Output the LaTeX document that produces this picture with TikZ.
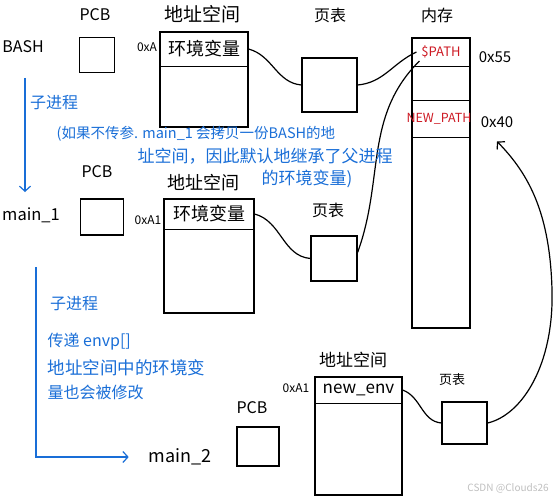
\documentclass[tikz,border=0pt]{standalone}
\usepackage{fontspec}
\setmainfont{Noto Sans CJK SC}
\usepackage{xcolor}
\usepackage{tikz}
\usetikzlibrary{arrows.meta}
\usetikzlibrary{positioning}
\definecolor{penblue}{RGB}{25,110,215}
\definecolor{penred}{RGB}{205,25,35}

\begin{document}
\begin{tikzpicture}[x=1pt, y=-1pt, line width=1.2pt,
    fs/.style={font=\fontsize{#1}{#1}\selectfont},
    box/.style={draw, inner sep=0pt},
    hdr/.style={inner sep=0pt, minimum width=#1},
    note/.style={text=penblue, font=\fontsize{16}{18}\selectfont, inner sep=1pt},
    barb/.style={-{Straight Barb[length=5pt, width=11pt]}}]
        \useasboundingbox (0,0) rectangle (553,500);

        % BASH
        \node[fs=16] (bash) at (23,47) {BASH};
        \node[fs=16] (pcbAlbl) at (95,15) {PCB};
        \node[box, minimum width=35pt, minimum height=35pt] (pcbA) at (97,55) {};
        \node[fs=19] (asAlbl) at (202,14) {地址空间};
        \node[fs=12] (adrA) at (147,47) {0xA};
        \node[box, minimum width=88pt, minimum height=95pt] (asA) at (204,79.5) {};
        \node[fs=18, hdr=88pt, minimum height=34pt, below=0pt of asA.north] (envA) {环境变量};
        \draw (envA.south west) -- (envA.south east);
        \node[fs=16] (ptAlbl) at (330,15) {页表};
        \node[box, minimum width=55pt, minimum height=54pt] (ptA) at (329.5,85) {};

        % Memoria
        \node[fs=16] (memlbl) at (437,15) {内存};
        \node[box, minimum width=58pt, minimum height=290pt] (mem) at (441,183) {};
        \node[fs=13, text=penred, hdr=58pt, minimum height=28pt, below=0pt of mem.north] (path) {\$PATH};
        \draw (path.south west) -- (path.south east);
        \node[fs=12.5, text=penred, hdr=58pt, minimum height=36pt] (newpath) at (439,119) {NEW\_PATH};
        \draw (mem.west |- newpath.north) -- (mem.east |- newpath.north)
              (mem.west |- newpath.south) -- (mem.east |- newpath.south);
        \node[fs=15] (x55) at (495,57) {0x55};
        \node[fs=15] (x40) at (497,122) {0x40};

        % main_1
        \node[fs=16.5] (main1) at (31,215) {main\_1};
        \node[fs=16] (pcbBlbl) at (97,172) {PCB};
        \node[box, minimum width=43pt, minimum height=36pt] (pcbB) at (102,217) {};
        \node[fs=18] (asBlbl) at (203,183) {地址空间};
        \node[fs=12] (adrB) at (148,220) {0xA1};
        \node[box, minimum width=90pt, minimum height=114pt] (asB) at (209,256) {};
        \node[fs=18, hdr=90pt, minimum height=30pt, below=0pt of asB.north] (envB) {环境变量};
        \draw (envB.south west) -- (envB.south east);
        \node[fs=16] (ptBlbl) at (328,210) {页表};
        \node[box, minimum width=46pt, minimum height=45pt] (ptB) at (334,258.5) {};

        % main_2
        \node[fs=18] (main2) at (180,457) {main\_2};
        \node[fs=16] (pcbClbl) at (252,408) {PCB};
        \node[box, minimum width=42pt, minimum height=39pt] (pcbC) at (258,446.5) {};
        \node[fs=17] (asClbl) at (353,360) {地址空间};
        \node[fs=12] (adrC) at (296,388) {0xA1};
        \node[box, minimum width=87pt, minimum height=118pt] (asC) at (358.5,436) {};
        \node[fs=17, hdr=87pt, minimum height=26pt, below=0pt of asC.north] (envC) {new\_env};
        \draw (envC.south west) -- (envC.south east);
        \node[fs=13] (ptClbl) at (452,380) {页表};
        \node[box, minimum width=45pt, minimum height=42pt] (ptC) at (464.5,423) {};

        % Collegamenti
        \draw (envA.east) to[out=-15, in=175] (ptA.west);
        \draw (ptA.east) to[out=5, in=205] ([xshift=5pt]path.west);
        \draw ([yshift=6pt]ptB.east) to[out=70, in=-135] ([xshift=8pt, yshift=-9pt]path.west);
        \draw (envB.east) to[out=-15, in=175] (ptB.west);
        \draw (envC.east) to[out=-20, in=175] (ptC.west);
        \draw[barb] (ptC.east) .. controls (522,415) and (554,365) .. (552,290)
            .. controls (550,215) and (530,175) .. ([yshift=-10pt]x40.south);

        % Note
        \coordinate (forkA) at (25,78);
        \coordinate (forkAend) at (25,192);
        \draw[penblue, barb] (forkA) -- (forkAend);
        \node[note] (sub1) at (54,103) {子进程};
        \node[note, fs=14.5, anchor=west] (why1) at (55,134) {(如果不传参. main\_1 会拷贝一份BASH的地};
        \node[note, fs=17, anchor=west] (why2) at (136,156) {址空间，因此默认地继承了父进程};
        \node[note, fs=17, anchor=west] (why3) at (260,179) {的环境变量)};

        \coordinate (forkB) at (36,267);
        \draw[penblue, barb] (forkB) |- ([xshift=-16pt]main2.west);
        \node[note] (sub2) at (74,304) {子进程};
        \node[note, anchor=west] (envp) at (46,342) {传递 envp[]};
        \node[note, fs=17.5, anchor=west] (chg1) at (46,368) {地址空间中的环境变};
        \node[note, anchor=west] (chg2) at (46,392) {量也会被修改};

        \node[fs=10, text=black!25] (mark) at (508,488) {CSDN @Clouds26};
    \end{tikzpicture}
\end{document}
